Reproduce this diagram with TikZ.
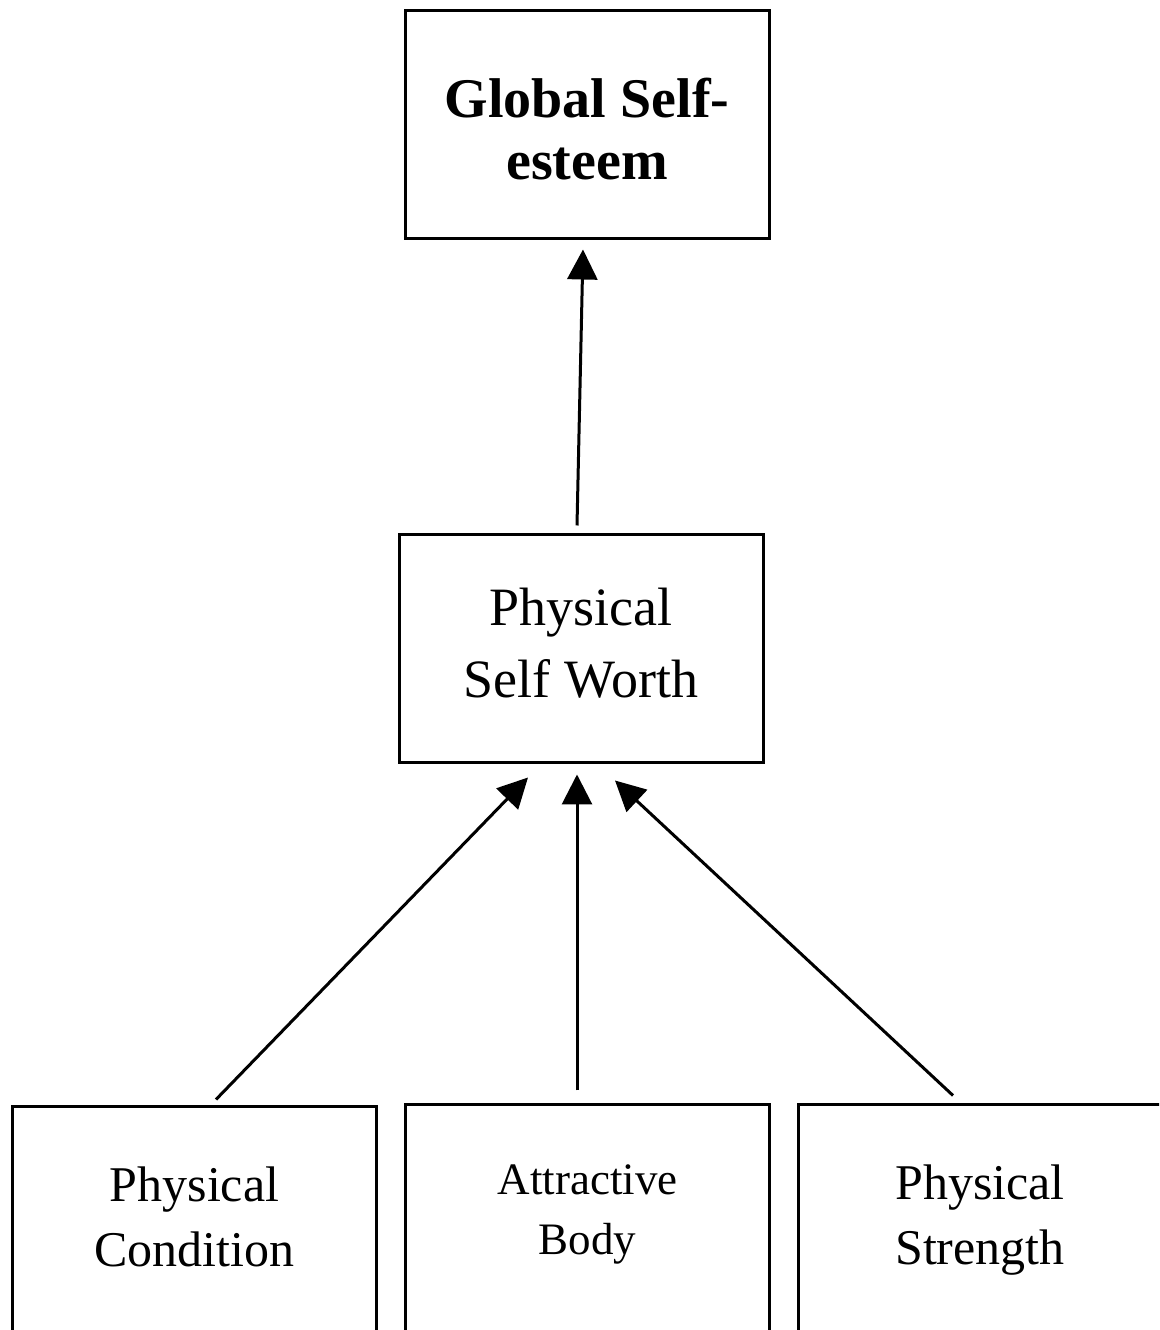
\documentclass[tikz,border=0pt]{standalone}
\usepackage{fontspec}
\setmainfont{Liberation Serif}
\usetikzlibrary{arrows.meta}
\newcommand\bxtext[2]{\raisebox{#1}[\height][\depth]{\begin{tabular}{@{}c@{}}#2\end{tabular}}}
\begin{document}
\begin{tikzpicture}[x=1pt,y=1pt,
  box/.style={draw, line width=3pt, minimum width=364pt, minimum height=228pt, inner sep=0pt},
  arr/.style={line width=3pt, -{Triangle[length=30pt,width=30pt]}}]
\clip (0,0) rectangle (1159,1330);
\node[box, font=\fontsize{56}{62}\selectfont\bfseries] (gs) at (587,1205) {\bxtext{-11pt}{Global Self-\\esteem}};
\node[box, font=\fontsize{54}{72}\selectfont] (ps) at (581,681) {\bxtext{2pt}{Physical\\Self Worth}};
\node[box, font=\fontsize{50}{65}\selectfont] (bl) at (194.5,109) {\bxtext{0pt}{Physical\\Condition}};
\node[box, font=\fontsize{45}{60}\selectfont] (bm) at (587.5,111) {\bxtext{6pt}{Attractive\\Body}};
\node[box, font=\fontsize{50}{65}\selectfont] (br) at (980,111) {\bxtext{0pt}{Physical\\Strength}};
\draw[arr] ([shift={(-4,8)}]ps.north) -- ([shift={(-4,-9)}]gs.south);
\draw[arr] ([shift={(21.5,6)}]bl.north) -- ([shift={(-53,-13)}]ps.south);
\draw[arr] ([shift={(-10.5,13)}]bm.north) -- ([shift={(-4,-10)}]ps.south);
\draw[arr] ([shift={(-27,8)}]br.north) -- ([shift={(34,-16)}]ps.south);
\end{tikzpicture}
\end{document}
